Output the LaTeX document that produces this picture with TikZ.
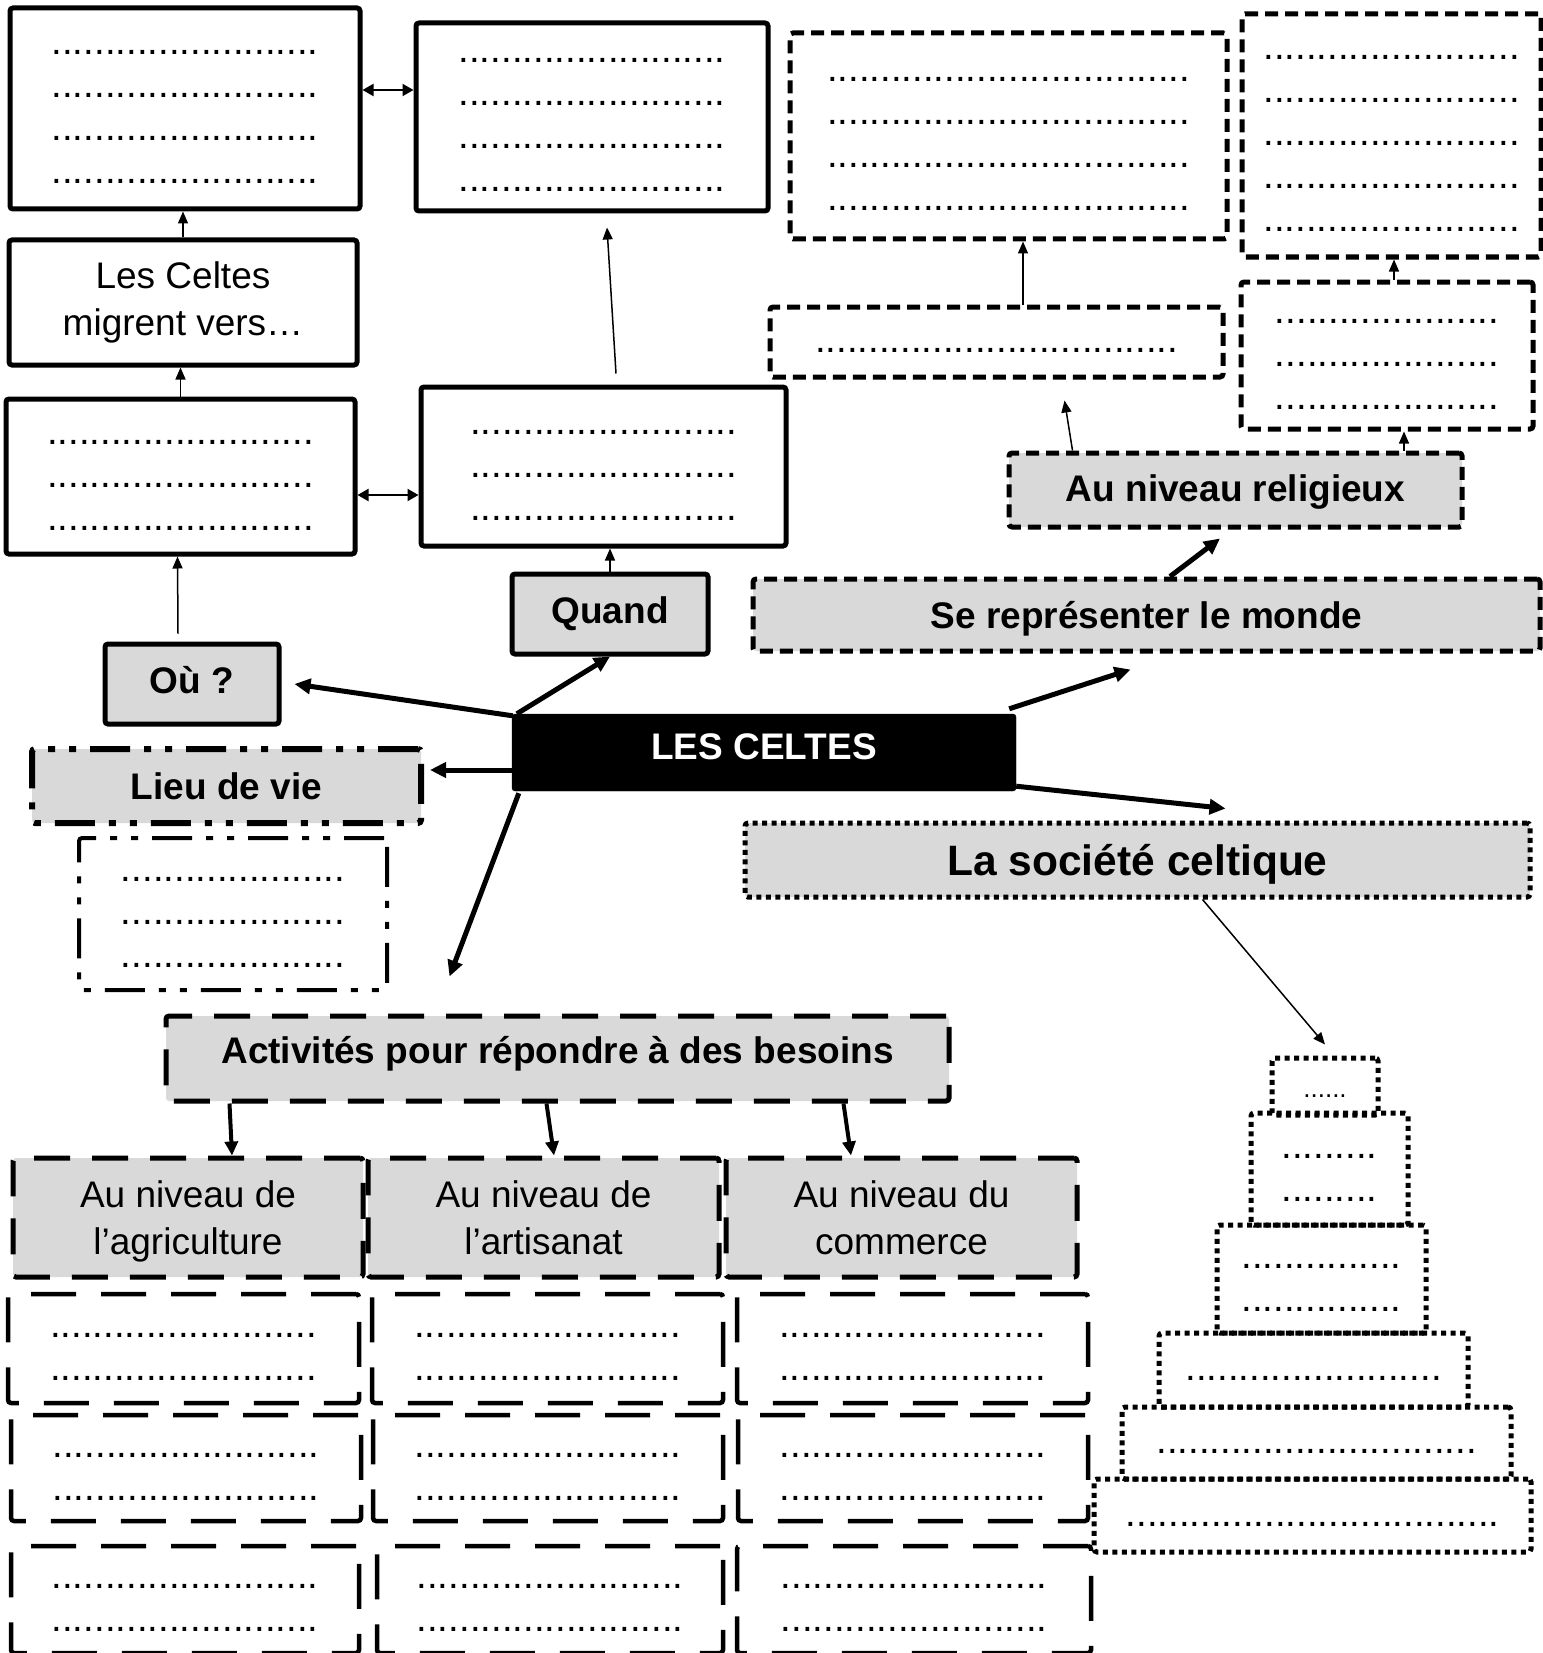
\documentclass[tikz,border=0pt]{standalone}
\usepackage{fontspec}
\setmainfont{Liberation Sans}
\usetikzlibrary{arrows.meta}

\newcommand{\pts}[1]{\rule[-11pt]{0pt}{43pt}\foreach \k in {1,...,#1}{.}}

\begin{document}
\begin{tikzpicture}[x=1pt,y=-1pt,
  every node/.style={inner sep=0pt,align=center,font=\fontsize{37}{47}\selectfont},
  boite/.style 2 args={draw,rounded corners=3pt,minimum width=#1pt,minimum height=#2pt},
  plein/.style={line width=5pt},
  gris/.style={fill=black!15},
  tirets/.style={line width=5pt,dash pattern=on 13pt off 7pt},
  longtirets/.style={line width=5pt,dash pattern=on 36pt off 22pt},
  grille/.style={line width=4.5pt,dash pattern=on 45pt off 25pt},
  mixte/.style={line width=6pt,dash pattern=on 40pt off 14pt on 7pt off 14pt on 7pt off 14pt},
  points/.style={line width=5pt,dash pattern=on 5pt off 4.5pt},
  titre/.style={font=\fontsize{37}{47}\selectfont\bfseries},
  lignes/.style={font=\fontsize{38.4}{43}\selectfont},
  fleche/.style={line width=5pt,-{Triangle[length=16pt,width=15pt]}},
  moyenne/.style={line width=4pt,-{Triangle[length=14pt,width=13pt]}},
  fine/.style={line width=1.5pt,-{Triangle[length=12pt,width=10pt]}},
  allerretour/.style={line width=2pt,{Triangle[length=11pt,width=12pt]}-{Triangle[length=11pt,width=12pt]}}]

  \useasboundingbox (0,0) rectangle (1542,1653);

  % colonne de gauche : migrations
  \node[boite={350}{201},plein,lignes] at (185,108.5) (a1) {\pts{25}\\\pts{25}\\\pts{25}\\\pts{25}};
  \node[boite={352}{188},plein,lignes] at (592,117) (a2) {\pts{25}\\\pts{25}\\\pts{25}\\\pts{25}};
  \node[boite={348}{125},plein] at (183,302.5) (migr) {Les Celtes\\migrent vers…};
  \node[boite={349}{155},plein,lignes] at (180.5,476.5) (b1) {\pts{25}\\\pts{25}\\\pts{25}};
  \node[boite={365}{159},plein,lignes] at (603.5,466.5) (b2) {\pts{25}\\\pts{25}\\\pts{25}};
  \node[boite={196}{80},plein,gris,titre] at (610,614) (quand) {Quand};
  \node[boite={174}{80},plein,gris,titre,text depth=9pt] at (192,684) (ou) {Où ?};

  % centre
  \node[boite={504}{77},fill=black,text=white,titre,text depth=12.5pt] at (764,752.5) (celtes) {LES CELTES};

  \node[boite={389}{74},mixte,gris,titre] at (226.5,786) (lieu) {Lieu de vie};
  \node[boite={308}{152},mixte,line width=4pt,lignes] at (233,914) (lieux) {\pts{21}\\\pts{21}\\\pts{21}};

  % se representer le monde
  \node[boite={787}{72},tirets,gris,titre,text height=35pt] at (1146.5,615) (monde) {Se représenter le monde};
  \node[boite={453}{74},tirets,gris,titre,text height=31pt] at (1235.5,490) (relig) {Au niveau religieux};
  \node[boite={453}{70},tirets,lignes] at (996.5,342) (r1) {\pts{34}};
  \node[boite={437}{206},tirets,lignes] at (1008.5,136) (r0) {\pts{34}\\\pts{34}\\\pts{34}\\\pts{34}};
  \node[boite={292}{147},tirets,lignes] at (1387,355.5) (r2) {\pts{21}\\\pts{21}\\\pts{21}};
  \node[boite={299}{243},tirets,lignes] at (1391.5,135.5) (r3) {\pts{24}\\\pts{24}\\\pts{24}\\\pts{24}\\\pts{24}};

  % societe
  \node[boite={785}{74},points,gris,font=\fontsize{42.5}{50}\selectfont\bfseries,text height=40pt] at (1137.5,860) (societe) {La société celtique};
  \node[boite={106}{57},points,font=\fontsize{26}{30}\selectfont] at (1325,1086.5) (p1) {\pts{6}};
  \node[boite={157}{112},points,lignes] at (1329.5,1169) (p2) {\pts{9}\\\pts{9}};
  \node[boite={209}{108},points,lignes] at (1321.5,1279) (p3) {\pts{15}\\\pts{15}};
  \node[boite={309}{74},points,lignes] at (1313.5,1370) (p4) {\pts{24}};
  \node[boite={389}{72},points,lignes] at (1316.5,1443) (p5) {\pts{30}};
  \node[boite={437}{73},points,lignes] at (1312.5,1515.5) (p6) {\pts{35}};

  % activites
  \node[boite={783}{85},longtirets,gris,titre,text depth=17pt] at (557.5,1058.5) (activ) {Activités pour répondre à des besoins};
  \node[boite={350}{119},longtirets,gris,text depth=0pt] at (188,1217.5) (agri) {Au niveau de\\l’agriculture};
  \node[boite={351}{119},longtirets,gris] at (543.5,1217.5) (artis) {Au niveau de\\l’artisanat};
  \node[boite={351}{119},longtirets,gris] at (901.5,1217.5) (comm) {Au niveau du\\commerce};

  \node[boite={351}{109},grille,lignes] at (183.5,1348.5) (g11) {\pts{25}\\\pts{25}};
  \node[boite={351}{109},grille,lignes] at (547.5,1348.5) (g12) {\pts{25}\\\pts{25}};
  \node[boite={351}{109},grille,lignes] at (912.5,1348.5) (g13) {\pts{25}\\\pts{25}};
  \node[boite={350}{106},grille,lignes] at (186,1468) (g21) {\pts{25}\\\pts{25}};
  \node[boite={350}{106},grille,lignes] at (548,1468) (g22) {\pts{25}\\\pts{25}};
  \node[boite={350}{106},grille,lignes] at (913,1468) (g23) {\pts{25}\\\pts{25}};
  \node[boite={348}{107},grille,lignes] at (185,1599.5) (g31) {\pts{25}\\\pts{25}};
  \node[boite={346}{107},grille,lignes] at (550,1599.5) (g32) {\pts{25}\\\pts{25}};
  \node[boite={354}{107},grille,lignes] at (914,1599.5) (g33) {\pts{25}\\\pts{25}};

  % liaisons
  \draw[allerretour] ([yshift=18.5pt]a1.east) -- ([yshift=27pt]a2.west);
  \draw[allerretour] ([yshift=-18.5pt]b1.east) -- ([yshift=-28.5pt]b2.west);
  \draw[fine] (migr.north) -- (migr.north |- a1.south);
  \draw[fine] (b1.north) -- (b1.north |- migr.south);
  \draw[fine] ([xshift=-14pt,yshift=8pt]ou.north) -- ([xshift=-3pt]b1.south);
  \draw[fine] (quand.north) -- (quand.north |- b2.south);
  \draw[fine] ([xshift=12.5pt,yshift=11pt]b2.north) -- ([xshift=15pt,yshift=-14pt]a2.south);

  \draw[fleche] ([xshift=1pt,yshift=-2pt]celtes.north west) -- ([xshift=13pt]ou.east);
  \draw[fleche] ([xshift=5pt]celtes.north west) -- (quand.south);
  \draw[fleche] ([yshift=-17.5pt]celtes.west) -- ([xshift=6pt,yshift=16pt]lieu.east);
  \draw[fleche] ([xshift=7pt,yshift=-2pt]celtes.south west) -- ([xshift=286pt,yshift=37pt]activ.north west);
  \draw[fleche] ([xshift=-7pt,yshift=5pt]celtes.north east) -- ([xshift=380pt,yshift=-16pt]monde.south west);
  \draw[fleche] ([yshift=5pt]celtes.south east) -- ([xshift=483pt,yshift=12pt]societe.north west);

  \draw[fleche] ([xshift=23.5pt]monde.north) -- ([xshift=-15.5pt,yshift=-9pt]relig.south);
  \draw[fine] ([xshift=66pt]relig.north west) -- ([xshift=297pt,yshift=-21pt]r1.south west);
  \draw[fine] ([xshift=168.5pt]relig.north) -- ([xshift=17pt]r2.south);
  \draw[fine] ([xshift=26.5pt]r1.north) -- ([xshift=14.5pt]r0.south);
  \draw[fine] ([xshift=7pt]r2.north) -- ([xshift=2.5pt]r3.south);

  \draw[fine] ([xshift=460pt]societe.south west) -- ([yshift=11pt]p1.north);

  \draw[moyenne] ([xshift=66pt]activ.south west) -- ([xshift=44pt]agri.north);
  \draw[moyenne] ([xshift=383pt]activ.south west) -- ([xshift=10.5pt]artis.north);
  \draw[moyenne] ([xshift=680pt]activ.south west) -- ([xshift=-50.5pt]comm.north);
\end{tikzpicture}
\end{document}
